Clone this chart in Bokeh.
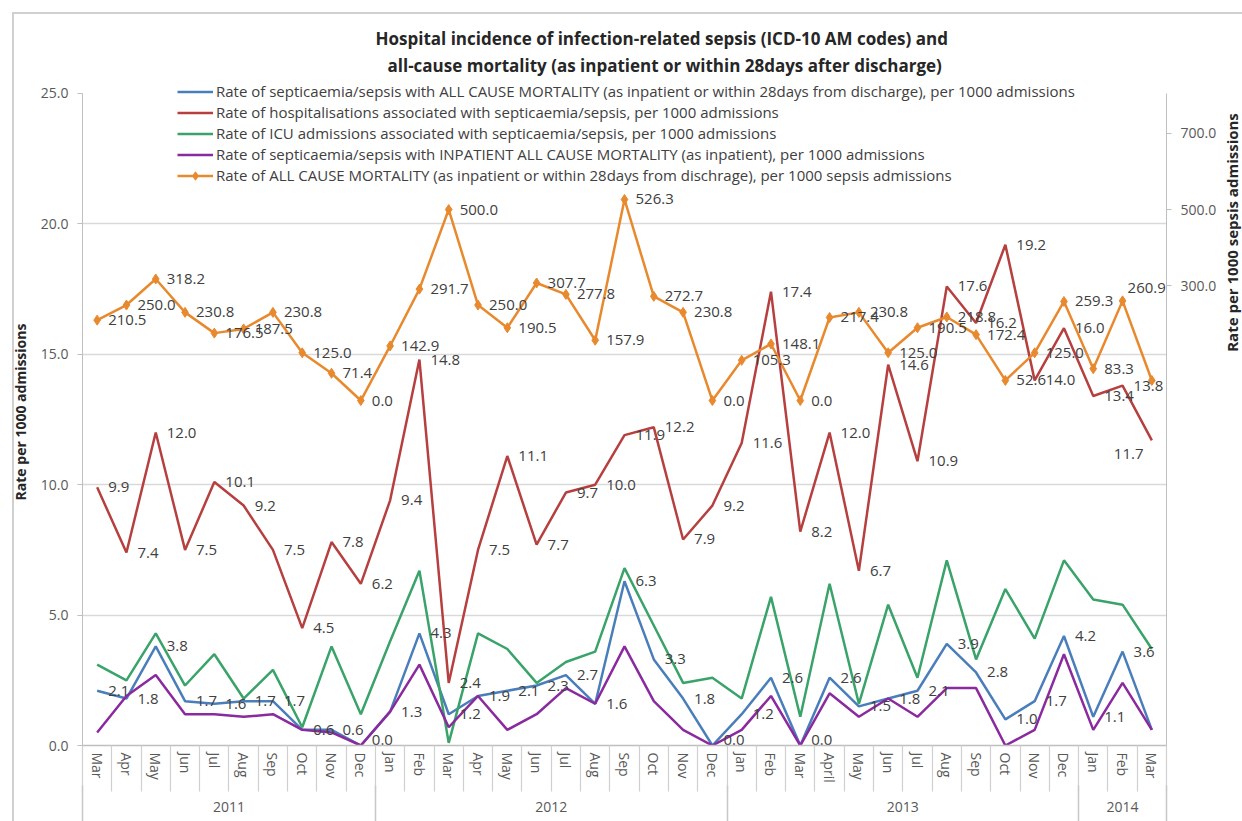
import math
from bokeh.plotting import figure
from bokeh.layouts import row
from bokeh.models import (Range1d, LinearAxis, FixedTicker, NumeralTickFormatter,
                          ColumnDataSource, Title, Label)
from bokeh.core.properties import value
from bokeh.embed import file_html
from bokeh.resources import INLINE

# ---------------- data ----------------
years = ["2011"] * 10 + ["2012"] * 12 + ["2013"] * 12 + ["2014"] * 3
months = ["Mar", "Apr", "May", "Jun", "Jul", "Aug", "Sep", "Oct", "Nov", "Dec",
          "Jan", "Feb", "Mar", "Apr", "May", "Jun", "Jul", "Aug", "Sep", "Oct", "Nov", "Dec",
          "Jan", "Feb", "Mar", "April", "May", "Jun", "Jul", "Aug", "Sep", "Oct", "Nov", "Dec",
          "Jan", "Feb", "Mar"]

# Rate of septicaemia/sepsis with ALL CAUSE MORTALITY, per 1000 admissions (left axis)
all_cause = [2.1, 1.8, 3.8, 1.7, 1.6, 1.7, 1.7, 0.6, 0.6, 0.0,
             1.3, 4.3, 1.2, 1.9, 2.1, 2.3, 2.7, 1.6, 6.3, 3.3, 1.8, 0.0,
             1.2, 2.6, 0.0, 2.6, 1.5, 1.8, 2.1, 3.9, 2.8, 1.0, 1.7, 4.2,
             1.1, 3.6, 0.6]
# Rate of hospitalisations associated with septicaemia/sepsis (left axis)
hosp = [9.9, 7.4, 12.0, 7.5, 10.1, 9.2, 7.5, 4.5, 7.8, 6.2,
        9.4, 14.8, 2.4, 7.5, 11.1, 7.7, 9.7, 10.0, 11.9, 12.2, 7.9, 9.2,
        11.6, 17.4, 8.2, 12.0, 6.7, 14.6, 10.9, 17.6, 16.2, 19.2, 14.0, 16.0,
        13.4, 13.8, 11.7]
# Rate of ICU admissions associated with septicaemia/sepsis (left axis)
icu = [3.1, 2.5, 4.3, 2.3, 3.5, 1.8, 2.9, 0.7, 3.8, 1.2,
       4.0, 6.7, 0.1, 4.3, 3.7, 2.4, 3.2, 3.6, 6.8, 4.6, 2.4, 2.6,
       1.8, 5.7, 1.1, 6.2, 1.6, 5.4, 2.6, 7.1, 3.3, 6.0, 4.1, 7.1,
       5.6, 5.4, 3.7]
# Rate of septicaemia/sepsis with INPATIENT ALL CAUSE MORTALITY (left axis)
inpatient = [0.5, 1.9, 2.7, 1.2, 1.2, 1.1, 1.2, 0.6, 0.5, 0.0,
             1.3, 3.1, 0.7, 1.9, 0.6, 1.2, 2.2, 1.6, 3.8, 1.7, 0.6, 0.0,
             0.6, 1.9, 0.0, 2.0, 1.1, 1.8, 1.1, 2.2, 2.2, 0.0, 0.6, 3.5,
             0.6, 2.4, 0.6]
# Rate of ALL CAUSE MORTALITY per 1000 sepsis admissions (right axis)
mort_sepsis = [210.5, 250.0, 318.2, 230.8, 176.5, 187.5, 230.8, 125.0, 71.4, 0.0,
               142.9, 291.7, 500.0, 250.0, 190.5, 307.7, 277.8, 157.9, 526.3, 272.7, 230.8, 0.0,
               105.3, 148.1, 0.0, 217.4, 230.8, 125.0, 190.5, 218.8, 172.4, 52.6, 125.0, 259.3,
               83.3, 260.9, 52.6]

left_ticks = [0, 5, 10, 15, 20, 25]
grid_ticks = [5, 10, 15, 20]
right_ticks = [300, 500, 700]

series_names = [
    "Rate of septicaemia/sepsis with ALL CAUSE MORTALITY (as inpatient or within 28days from discharge), per 1000 admissions",
    "Rate of hospitalisations associated with septicaemia/sepsis, per 1000 admissions",
    "Rate of ICU admissions associated with septicaemia/sepsis, per 1000 admissions",
    "Rate of septicaemia/sepsis with INPATIENT ALL CAUSE MORTALITY (as inpatient), per 1000 admissions",
    "Rate of ALL CAUSE MORTALITY (as inpatient or within 28days from dischrage), per 1000 sepsis admissions",
]
title_lines = ["Hospital incidence of infection-related sepsis (ICD-10 AM codes) and",
               "all-cause mortality (as inpatient or within 28days after discharge)"]
left_title = "Rate per 1000 admissions"
right_title = "Rate per 1000 sepsis admissions"

# ---------------- styling ----------------
C_BLUE = "#4a7ebb"
C_RED = "#b6403f"
C_GREEN = "#3aa36a"
C_PURPLE = "#8a2a9e"
C_ORANGE = "#e8892e"
FONT = "Open Sans"
TXT = "#404040"
AX = "#595959"
DARK = "#262626"

n = len(months)
xpos = [i + 0.5 for i in range(n)]           # category centres on the x scale
month_bounds = list(range(n + 1))            # category boundaries
year_bounds = [0] + [i for i in range(1, n) if years[i] != years[i - 1]] + [n]
year_names = [years[b] for b in year_bounds[:-1]]
year_centres = [(a + b) / 2 for a, b in zip(year_bounds[:-1], year_bounds[1:])]

p = figure(width=1220, height=821,
           x_range=Range1d(0, n), y_range=Range1d(0, 25.575), x_axis_location=None,
           output_backend="svg", toolbar_location=None, title=None,
           min_border_left=82, min_border_right=54, min_border_top=78, min_border_bottom=76)
p.extra_y_ranges = {"right": Range1d(-903, 843)}
p.outline_line_color = None
p.background_fill_color = "white"
p.border_fill_alpha = 0
p.xgrid.visible = False

# titles (two lines)
t2 = Title(text=title_lines[1], align="left", offset=305, standoff=4,
           text_font=FONT, text_font_style="bold", text_font_size="17px", text_color=DARK)
t1 = Title(text=title_lines[0], align="left", offset=293, standoff=0,
           text_font=FONT, text_font_style="bold", text_font_size="17px", text_color=DARK)
p.add_layout(t2, "above")
p.add_layout(t1, "above")

# left axis
ya = p.yaxis[0]
ya.ticker = FixedTicker(ticks=left_ticks)
ya.bounds = (0, 25)
ya.formatter = NumeralTickFormatter(format="0.0")
ya.axis_label = left_title
ya.axis_label_text_font = FONT
ya.axis_label_text_font_style = "bold"
ya.axis_label_text_font_size = "14px"
ya.axis_label_text_color = DARK
ya.axis_label_standoff = 8
ya.major_label_text_font = FONT
ya.major_label_text_font_size = "14px"
ya.major_label_text_color = AX
ya.major_label_standoff = 9
ya.axis_line_color = "#bfbfbf"
ya.major_tick_line_color = "#bfbfbf"
ya.major_tick_out = 5
ya.major_tick_in = 0
ya.minor_tick_line_color = None

p.ygrid.ticker = FixedTicker(ticks=grid_ticks)
p.ygrid.grid_line_color = "#d9d9d9"
p.ygrid.grid_line_width = 1.5

# right axis
ra = LinearAxis(y_range_name="right", ticker=FixedTicker(ticks=right_ticks), bounds=(-903, 804),
                formatter=NumeralTickFormatter(format="0.0"),
                major_label_text_font=FONT, major_label_text_font_size="14px",
                major_label_text_color=AX, major_label_standoff=9,
                axis_line_color="#bfbfbf", major_tick_line_color="#bfbfbf",
                major_tick_out=5, major_tick_in=0, minor_tick_line_color=None)
p.add_layout(ra, "right")

# x axis 1: month labels (vertical), separators between months drawn outward
month_axis = LinearAxis(ticker=FixedTicker(ticks=xpos, minor_ticks=month_bounds),
                        major_label_overrides={x: m for x, m in zip(xpos, months)},
                        major_label_orientation="vertical",
                        major_tick_in=0, major_tick_out=0, major_tick_line_color=None,
                        minor_tick_in=-46, minor_tick_out=0,
                        minor_tick_line_color="#d0d0d0", minor_tick_line_width=1.2,
                        axis_line_color="#bfbfbf", axis_line_width=1.5,
                        major_label_standoff=7,
                        major_label_text_font=FONT, major_label_text_font_size="14px",
                        major_label_text_color=AX)
p.add_layout(month_axis, "below")

# x axis 2: year labels, separators between years extending downward
year_axis = LinearAxis(ticker=FixedTicker(ticks=year_centres, minor_ticks=year_bounds),
                       major_label_overrides={x: y for x, y in zip(year_centres, year_names)},
                       major_tick_in=0, major_tick_out=0, major_tick_line_color=None,
                       minor_tick_in=-45, minor_tick_out=0,
                       minor_tick_line_color="#c8c8c8", minor_tick_line_width=1.5,
                       axis_line_color=None, major_label_standoff=16,
                       major_label_text_font=FONT, major_label_text_font_size="14px",
                       major_label_text_color=AX)
p.add_layout(year_axis, "below")

# ---------------- series ----------------
src = ColumnDataSource(dict(x=xpos, all_cause=all_cause, hosp=hosp, icu=icu,
                            inpatient=inpatient, mort=mort_sepsis))
lw = 2.5
p.line("x", "all_cause", source=src, line_color=C_BLUE, line_width=lw, legend_label=series_names[0])
p.line("x", "hosp", source=src, line_color=C_RED, line_width=lw, legend_label=series_names[1])
p.line("x", "icu", source=src, line_color=C_GREEN, line_width=lw, legend_label=series_names[2])
p.line("x", "inpatient", source=src, line_color=C_PURPLE, line_width=lw, legend_label=series_names[3])
p.line("x", "mort", source=src, y_range_name="right", line_color=C_ORANGE, line_width=lw,
       legend_label=series_names[4])
p.scatter("x", "mort", source=src, y_range_name="right", marker="diamond", size=10,
          fill_color=C_ORANGE, line_color=C_ORANGE, legend_label=series_names[4])

# ---------------- data labels ----------------
def fmt(vals):
    return ["%.1f" % v for v in vals]

lab_font = dict(text_font=value(FONT), text_font_size="15px", text_color=TXT,
                text_baseline="middle", text_align="left")
lab_kw = dict(x_offset=11, **lab_font)

# blue labels: zero values are lifted slightly so they are not cut by the x axis
b_idx = [i for i in range(n - 1) if all_cause[i] > 0]
z_idx = [i for i in range(n - 1) if all_cause[i] == 0]
blue_lab = ColumnDataSource(dict(x=[xpos[i] for i in b_idx], y=[all_cause[i] for i in b_idx],
                                 t=fmt([all_cause[i] for i in b_idx])))
blue_zero = ColumnDataSource(dict(x=[xpos[i] for i in z_idx], y=[all_cause[i] for i in z_idx],
                                  t=fmt([all_cause[i] for i in z_idx])))
red_lab = ColumnDataSource(dict(x=xpos[:-1], y=hosp[:-1], t=fmt(hosp[:-1])))
org_lab = ColumnDataSource(dict(x=xpos[:-2], y=mort_sepsis[:-2], t=fmt(mort_sepsis[:-2])))
p.text("x", "y", text="t", source=blue_lab, **lab_kw)
p.text("x", "y", text="t", source=blue_zero, x_offset=11, y_offset=-6, **lab_font)
p.text("x", "y", text="t", source=red_lab, **lab_kw)
p.text("x", "y", text="t", source=org_lab, y_range_name="right", **lab_kw)
# labels near the right edge are nudged so they stay inside the plot area
p.text(x=[xpos[-2]], y=[mort_sepsis[-2]], text=fmt([mort_sepsis[-2]]), y_range_name="right",
       x_offset=5, y_offset=-13, **lab_font)
p.text(x=[xpos[-1]], y=[hosp[-1]], text=fmt([hosp[-1]]), x_offset=-38, y_offset=14, **lab_font)

# ---------------- legend ----------------
lg = p.legend[0]
lg.location = (95, 559.5)
lg.padding = 0
lg.margin = 0
lg.spacing = 0
lg.label_height = 21
lg.glyph_height = 21
lg.glyph_width = 36
lg.label_standoff = 3
lg.border_line_color = None
lg.background_fill_alpha = 0
lg.label_text_font = FONT
lg.label_text_font_size = "15px"
lg.label_text_color = TXT

# ---------------- right-hand axis title (narrow companion figure, frame aligned with p) ----------------
p2 = figure(width=22, height=821, x_range=Range1d(0, 1), y_range=Range1d(0, 1),
            x_axis_location=None, y_axis_location=None, output_backend="svg",
            toolbar_location=None, title=None, min_border=0)
p2.outline_line_color = None
p2.grid.visible = False
p2.background_fill_color = "white"
p2.border_fill_alpha = 0
p2.add_layout(Label(x=11, y=513, x_units="screen", y_units="screen", angle=math.pi / 2,
                    text=right_title, text_align="center", text_baseline="middle",
                    text_font=FONT, text_font_style="bold", text_font_size="15px",
                    text_color=DARK))

# chart-area border of the original (top and left edges visible in the crop)
chart_bg = ("linear-gradient(#d0d0d0, #d0d0d0) 12px 12px / calc(100% - 12px) 2px no-repeat, "
            "linear-gradient(#d0d0d0, #d0d0d0) 12px 12px / 2px calc(100% - 12px) no-repeat, white")
layout = row(p, p2, spacing=0, styles={"background": chart_bg})
open("out.html", "w").write(file_html(layout, INLINE))
